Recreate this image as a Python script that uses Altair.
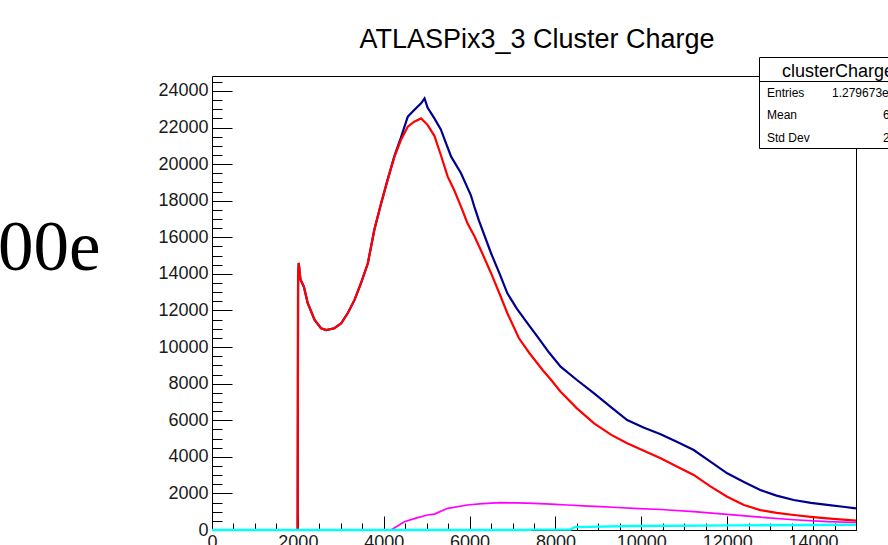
import altair as alt
import pandas as pd

# ---------------- data ----------------
red_x = [0, 1995, 2005, 2020, 2060, 2140, 2230, 2390, 2540, 2660, 2850, 3010, 3160, 3320,
         3470, 3630, 3780, 3940, 4090, 4250, 4400, 4560, 4710, 4870, 5020, 5180, 5330, 5490,
         5640, 5800, 5950, 6110, 6300, 6500, 6700, 6880, 7150, 7400, 7700, 7900, 8120, 8500,
         8900, 9300, 9670, 10020, 10450, 10850, 11220, 11600, 12000, 12390, 12770, 13150,
         13550, 13950, 14330, 14700, 15000]
red_y = [0, 0, 13800, 14600, 13700, 13300, 12400, 11480, 11030, 10930, 11030, 11300, 11850,
         12580, 13490, 14580, 16400, 17860, 19140, 20410, 21320, 22050, 22320, 22500, 22150,
         21550, 20500, 19320, 18590, 17680, 16770, 16070, 15100, 14040, 12900, 11850, 10480,
         9650, 8750, 8200, 7560, 6650, 5830, 5200, 4740, 4370, 3920, 3450, 3010, 2400, 1820,
         1370, 1090, 940, 820, 720, 640, 570, 510]

blue_x = [0, 1995, 2005, 2020, 2060, 2140, 2230, 2390, 2540, 2660, 2850, 3010, 3160, 3320,
          3470, 3630, 3780, 3940, 4090, 4250, 4400, 4560, 4710, 4870, 4950, 5020, 5180, 5330,
          5410, 5570, 5800, 6030, 6110, 6220, 6500, 6700, 6880, 7100, 7350, 7580, 7850, 8120,
          8500, 8900, 9300, 9670, 10050, 10450, 10850, 11220, 11600, 12000, 12390, 12770,
          13150, 13550, 13950, 14330, 14700, 15000]
blue_y = [0, 0, 13800, 14600, 13700, 13300, 12400, 11480, 11030, 10930, 11030, 11300, 11850,
          12580, 13490, 14580, 16400, 17860, 19140, 20450, 21450, 22600, 22960, 23330, 23600,
          23100, 22500, 21900, 21400, 20410, 19500, 18300, 17680, 16900, 15130, 14000, 12940,
          12100, 11300, 10570, 9700, 8930, 8200, 7470, 6700, 6010, 5600, 5240, 4800, 4370,
          3750, 3100, 2620, 2190, 1880, 1640, 1480, 1370, 1270, 1185]

magenta_x = [0, 4170, 4480, 4750, 5020, 5180, 5490, 5950, 6300, 6730, 7100, 7500, 7900, 8280,
             8650, 9050, 9450, 9830, 10450, 11220, 12000, 12770, 13550, 14330, 15000]
magenta_y = [0, 0, 456, 650, 820, 870, 1185, 1367, 1440, 1494, 1480, 1458, 1410, 1367, 1320,
             1276, 1230, 1185, 1120, 1000, 850, 700, 560, 456, 410]

cyan_x = [0, 7300, 7500, 8350, 8450, 9800, 12150, 15000]
cyan_y = [0, 0, 20, 30, 160, 220, 255, 290]

x_major = [0, 2000, 4000, 6000, 8000, 10000, 12000, 14000]
y_major = [0, 2000, 4000, 6000, 8000, 10000, 12000, 14000, 16000, 18000, 20000, 22000, 24000]
x_minor = list(range(0, 15001, 500))
y_minor = list(range(0, 24801, 500))

title_text = "ATLASPix3_3 Cluster Charge"
side_text = "00e"
stats_title = "clusterCharge"
stats_labels = ["Entries", "Mean", "Std Dev"]
stats_values = ["1.279673e+06", "6", "2"]

# ---------------- layout ----------------
W, H = 644, 454
X_MAX, Y_MAX = 15000, 24820
FONT = "Liberation Sans"
LABEL_COLOR = "#1a1a1a"

xscale = alt.Scale(domain=[0, X_MAX], nice=False, zero=False)
yscale = alt.Scale(domain=[0, Y_MAX], nice=False)

x_major_axis = alt.Axis(values=x_major, tickSize=14, offset=-14, domain=False, grid=False,
                        labelPadding=3, labelFont=FONT, labelFontSize=18,
                        labelColor=LABEL_COLOR, tickColor="black", tickWidth=1,
                        labelFlush=False, labelOverlap=False, title=None, format="d",
                        orient="bottom")
y_major_axis = alt.Axis(values=y_major, tickSize=20, offset=-20, domain=False, grid=False,
                        labelPadding=4, labelFont=FONT, labelFontSize=18,
                        labelColor=LABEL_COLOR, tickColor="black", tickWidth=1,
                        labelFlush=False, labelOverlap=False, title=None, format="d",
                        orient="left")
x_minor_axis = alt.Axis(values=x_minor, tickSize=7, offset=-7, domain=False, grid=False,
                        labels=False, tickColor="black", tickWidth=1, title=None,
                        orient="bottom")
y_minor_axis = alt.Axis(values=y_minor, tickSize=10, offset=-10, domain=False, grid=False,
                        labels=False, tickColor="black", tickWidth=1, title=None,
                        orient="left")


def df_of(xs, ys):
    return pd.DataFrame({"x": xs, "y": ys})


def line(xs, ys, color, width=2.0, clip=True):
    return alt.Chart(df_of(xs, ys)).mark_line(color=color, strokeWidth=width, clip=clip).encode(
        x=alt.X("x:Q", scale=xscale, axis=x_major_axis),
        y=alt.Y("y:Q", scale=yscale, axis=y_major_axis),
    )


one = pd.DataFrame({"a": [0]})

frame = alt.Chart(one).mark_rect(fillOpacity=0, stroke="black", strokeWidth=1).encode(
    x=alt.value(0.5), x2=alt.value(W + 0.5), y=alt.value(0.5), y2=alt.value(H + 0.5))

main = alt.layer(
    line(blue_x, blue_y, "#000090", 2.2),
    line(red_x, red_y, "#ff0000", 2.2),
    line(magenta_x, magenta_y, "#ff00ff", 1.7),
    line(cyan_x, cyan_y, "#00ffff", 2.4, clip=False),
)

minor = alt.Chart(df_of(cyan_x, cyan_y)).mark_line(opacity=0).encode(
    x=alt.X("x:Q", scale=xscale, axis=x_minor_axis),
    y=alt.Y("y:Q", scale=yscale, axis=y_minor_axis),
)

title = alt.Chart(one).mark_text(text=title_text, font=FONT, fontSize=27, color="black",
                                 align="center", baseline="alphabetic").encode(
    x=alt.value(W / 2 + 3), y=alt.value(-28))

side = alt.Chart(one).mark_text(text=side_text, font="Liberation Serif", fontSize=71,
                                color="black", align="left", baseline="alphabetic").encode(
    x=alt.value(-214), y=alt.value(194))

# stats box (partly outside the canvas, as in the reference)
BX0, BX1, BY0, BY1, BYH = 759.5 - 212, 920 - 212, 57.5 - 76, 148.5 - 76, 81.5 - 76
box = alt.Chart(one).mark_rect(fill="white", stroke="black", strokeWidth=1).encode(
    x=alt.value(BX0), x2=alt.value(BX1), y=alt.value(BY0), y2=alt.value(BY1))
sep = alt.Chart(one).mark_rule(color="black", strokeWidth=1).encode(
    x=alt.value(BX0), x2=alt.value(BX1), y=alt.value(BYH))
stitle = alt.Chart(one).mark_text(text=stats_title, font=FONT, fontSize=18, color="black",
                                  align="left", baseline="alphabetic").encode(
    x=alt.value(782 - 212), y=alt.value(77 - 76))

rows = pd.DataFrame({"label": stats_labels, "value": stats_values,
                     "ypix": [97 - 76, 119 - 76, 142 - 76],
                     "xpix": [832 - 212, 883 - 212, 883 - 212]})
slabels = alt.Chart(rows).mark_text(font=FONT, fontSize=12, color="black", align="left",
                                    baseline="alphabetic").encode(
    text="label:N", x=alt.value(767 - 212), y=alt.Y("ypix:Q", scale=None))
svalues = alt.Chart(rows).mark_text(font=FONT, fontSize=12, color="black", align="left",
                                    baseline="alphabetic").encode(
    text="value:N", x=alt.X("xpix:Q", scale=None), y=alt.Y("ypix:Q", scale=None))

chart = alt.layer(minor, frame, main, title, side, box, sep, stitle, slabels,
                  svalues).resolve_axis(
    x="independent", y="independent"
).properties(
    width=W, height=H,
    autosize=alt.AutoSizeParams(type="none"),
    padding={"left": 212, "top": 76, "right": 32, "bottom": 15},
).configure_view(stroke=None).configure(background="white")

chart.save("out.html", embed_options={"renderer": "svg", "actions": False})
